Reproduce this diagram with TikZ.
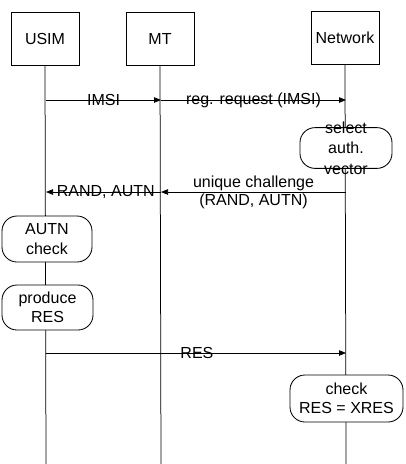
\documentclass[tikz,border=0pt]{standalone}
\usepackage{fontspec}
\setmainfont{Liberation Sans}
\usetikzlibrary{arrows.meta}
\begin{document}
\begin{tikzpicture}[x=1pt,y=-1pt,
  every node/.style={font=\fontsize{16}{19.5}\selectfont},
  ent/.style={draw,line width=0.85pt,minimum width=68pt,minimum height=53pt,inner sep=0pt},
  proc/.style={draw,line width=0.85pt,fill=white,rounded corners=15pt,align=center,inner sep=0pt},
  life/.style={line width=0.75pt},
  msg/.style={line width=0.75pt,-{Triangle[length=7pt,width=5.5pt]}},
  lbl/.style={inner sep=1pt}]
\useasboundingbox (0,0) rectangle (406,464);
% entity boxes
\node[ent] (usim) at (45,38.5) {USIM};
\node[ent] (mt) at (160,38.5) {MT};
\node[ent] (net) at (345,38) {Network};
% lifeline ends
\coordinate (usimend) at (46,464);
\coordinate (mtend) at (161,464);
\coordinate (netend) at (346,464);
\draw[life] (usim.south) -- (usimend);
\draw[life] (mt.south) -- (mtend);
\draw[life] (net.south) -- (netend);
% process boxes
\node[proc,minimum width=92pt,inner ysep=-6pt,font=\fontsize{16}{20.5}\selectfont] (sel) at (346,148) {select\\auth.\\vector};
\node[proc,minimum width=90pt,minimum height=46pt] (autn) at (47,239) {AUTN\\check};
\node[proc,minimum width=91pt,minimum height=45pt] (prod) at (47.5,307.5) {produce\\RES};
\node[proc,minimum width=113pt,minimum height=47pt] (chk) at (346.5,398.5) {check\\RES = XRES};
% message coordinates
\coordinate (u1) at (46,100);
\coordinate (m1) at (161,100);
\coordinate (n1) at (346,100);
\coordinate (n2) at (346,192);
\coordinate (m2) at (161,192);
\coordinate (u2) at (46,192);
\coordinate (u3) at (46,353);
\coordinate (n3) at (346,353);
% messages
\draw[msg] (u1) -- node[lbl] {IMSI} (m1);
\draw[msg] (m1) -- node[lbl] {reg. request (IMSI)} (n1);
\draw[msg] (n2) -- node[lbl,above=0pt] {unique challenge} node[lbl,below=1pt] {(RAND, AUTN)} (m2);
\draw[msg] (m2) -- node[lbl,pos=0.48] {RAND, AUTN} (u2);
\draw[msg] (u3) -- node[lbl,pos=0.503] {RES} (n3);
\end{tikzpicture}
\end{document}
